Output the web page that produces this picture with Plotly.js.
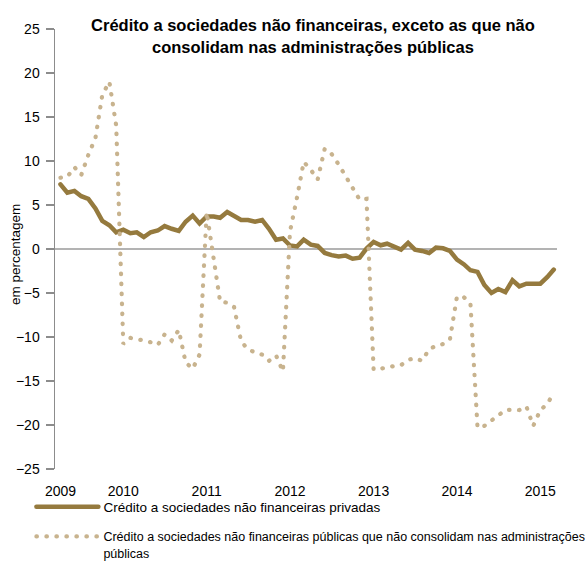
<!DOCTYPE html>
<html>
<head>
<meta charset="utf-8">
<script src="https://cdn.plot.ly/plotly-3.0.1.min.js"></script>
<style>
  html, body { margin: 0; padding: 0; background: #fff; }
  #chart { width: 585px; height: 562px; }
  .js-line { stroke-linecap: round; }
</style>
</head>
<body>
<div id="chart"></div>
<script>
// Monthly observations, April 2009 to March 2015
const startYear = 2009;
const startMonth = 4;
const nMonths = 72;

const seriesNames = [
  "Crédito a sociedades não financeiras privadas",
  "Crédito a sociedades não financeiras públicas que não consolidam nas administrações<br>públicas"
];

// Taxa de variação anual (%), crédito a sociedades não financeiras privadas
const privadas = [
  7.35, 6.4, 6.6, 6.0, 5.7, 4.6, 3.2, 2.7, 1.9, 2.2, 1.8, 1.9,
  1.35, 1.9, 2.1, 2.6, 2.3, 2.05, 3.1, 3.8, 2.9, 3.7, 3.7, 3.55,
  4.2, 3.8, 3.3, 3.3, 3.1, 3.3, 2.3, 1.05, 1.2, 0.4, 0.3, 1.05,
  0.5, 0.35, -0.45, -0.7, -0.85, -0.75, -1.1, -0.98, 0.05, 0.8, 0.42, 0.6,
  0.23, -0.07, 0.7, -0.07, -0.22, -0.45, 0.15, 0.08, -0.22, -1.2, -1.75, -2.42,
  -2.6, -4.1, -5.0, -4.55, -4.9, -3.56, -4.24, -3.94, -3.94, -3.94, -3.18, -2.34
];

// Taxa de variação anual (%), crédito a sociedades não financeiras públicas
const publicas = [
  8.1, 8.2, 9.3, 8.4, 10.7, 12.6, 17.5, 19.0, 14.0, -10.8, -10.1, -10.2,
  -10.4, -10.6, -10.9, -9.7, -10.4, -9.2, -12.9, -13.6, -12.0, 4.2, -0.8, -6.0,
  -6.1, -6.6, -10.5, -11.4, -11.75, -12.0, -12.7, -12.1, -13.9, 2.0, 5.9, 9.9,
  9.0, 7.9, 11.4, 10.8, 9.6, 8.3, 7.1, 5.6, 5.7, -13.7, -13.6, -13.4,
  -13.3, -13.2, -12.6, -12.4, -12.7, -11.4, -11.0, -10.8, -10.3, -5.4, -5.5, -6.2,
  -20.3, -20.1, -19.5, -18.8, -18.3, -18.25, -18.3, -17.9, -20.1, -18.3, -17.6, -16.3
];

const tickDates = ["2009-04-01", "2010-01-01", "2011-01-01", "2012-01-01", "2013-01-01", "2014-01-01", "2015-01-01"];
const tickLabels = ["2009", "2010", "2011", "2012", "2013", "2014", "2015"];
const yTicks = [25, 20, 15, 10, 5, 0, -5, -10, -15, -20, -25];
const yTitle = "em percentagem";

function monthDates(y0, m0, n) {
  const out = [];
  for (let k = 0; k < n; k++) {
    const t = (m0 - 1) + k;
    const y = y0 + Math.floor(t / 12);
    const m = (t % 12) + 1;
    out.push(y + "-" + String(m).padStart(2, "0") + "-01");
  }
  return out;
}
const dates = monthDates(startYear, startMonth, nMonths);

const FONT = "'Liberation Sans', Arial, sans-serif";
const darkGold = "#957a3e";
const lightGold = "#c8b38e";

const traces = [
  {
    x: dates, y: privadas, name: seriesNames[0], type: "scatter", mode: "lines",
    line: { color: darkGold, width: 4.5 },
    legend: "legend"
  },
  {
    x: dates, y: publicas, name: seriesNames[1], type: "scatter", mode: "lines",
    line: { color: lightGold, width: 4.2, dash: "0.5px,9.5px" },
    legend: "legend2"
  }
];

const layout = {
  width: 585, height: 562,
  margin: { l: 55, r: 28, t: 29, b: 93, autoexpand: false },
  paper_bgcolor: "#fff", plot_bgcolor: "#fff",
  font: { family: FONT, size: 14, color: "#000" },
  title: {
    text: "<b>Crédito a sociedades não financeiras, exceto as que não<br>consolidam nas administrações públicas</b>",
    font: { family: FONT, size: 16.5, color: "#000" },
    x: 0.535, xanchor: "center", xref: "container",
    y: 0.944, yanchor: "top", yref: "container"
  },
  xaxis: {
    type: "date",
    range: ["2009-03-08", "2015-03-15"],
    tickvals: tickDates, ticktext: tickLabels,
    showgrid: false, zeroline: false, showline: false,
    ticks: "", ticklabelstandoff: 12,
    tickfont: { family: FONT, size: 14, color: "#000" }
  },
  yaxis: {
    range: [-25, 25],
    tickvals: yTicks,
    showgrid: false,
    zeroline: true, zerolinecolor: "#b3b3b3", zerolinewidth: 1.5,
    showline: true, linecolor: "#8c8c8c", linewidth: 1.5,
    ticks: "outside", ticklen: 8, tickcolor: "#8c8c8c", tickwidth: 1.5,
    ticklabelstandoff: 3,
    tickfont: { family: FONT, size: 14, color: "#000" }
  },
  annotations: [
    {
      text: yTitle, textangle: -90, showarrow: false,
      xref: "paper", yref: "paper",
      x: -0.08, y: 0.488, xanchor: "center", yanchor: "middle",
      font: { family: FONT, size: 13.5, color: "#000" }
    }
  ],
  showlegend: true,
  legend: {
    x: -0.047, xanchor: "left", y: -0.051, yanchor: "top",
    orientation: "v", itemwidth: 62, itemclick: false,
    font: { family: FONT, size: 13.5, color: "#000" },
    bgcolor: "rgba(0,0,0,0)"
  },
  legend2: {
    x: -0.047, xanchor: "left", y: -0.12, yanchor: "top",
    orientation: "v", itemwidth: 62, itemclick: false, valign: "top",
    font: { family: FONT, size: 12.5, color: "#000" },
    bgcolor: "rgba(0,0,0,0)"
  }
};

Plotly.newPlot("chart", traces, layout, { displayModeBar: false, staticPlot: true });
</script>
</body>
</html>
